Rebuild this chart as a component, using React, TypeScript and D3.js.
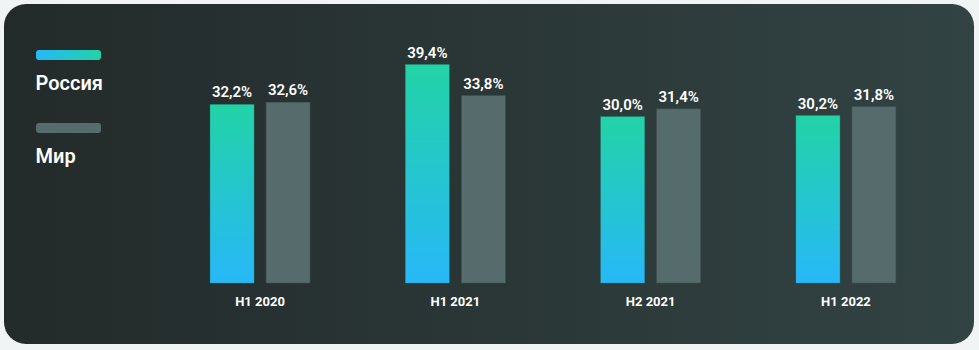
import React from "react";
import * as d3 from "d3";

const categories = ["H1 2020", "H1 2021", "H2 2021", "H1 2022"];
const russia = [32.2, 39.4, 30.0, 30.2];
const world = [32.6, 33.8, 31.4, 31.8];
const seriesNames = ["Россия", "Мир"];

const W = 979;
const H = 350;
const FONT = "Roboto, 'Noto Sans', sans-serif";

export default function App() {
  const x = d3.scaleBand<string>().domain(categories).range([162.4, 943.6]).padding(0);
  const y = d3.scaleLinear().domain([0, 39.4]).range([283, 64.5]);
  const barW = 44;
  const gap = 12;
  const fmt = (v: number) => v.toFixed(1).replace(".", ",") + "%";

  return (
    <svg
      width={W}
      height={H}
      style={{ position: "absolute", left: 0, top: 0, display: "block" }}
    >
      <defs>
        <linearGradient id="card" x1="0" y1="0" x2="1" y2="0">
          <stop offset="0" stopColor="#232a2a" />
          <stop offset="1" stopColor="#324343" />
        </linearGradient>
        <linearGradient id="rusV" x1="0" y1="0" x2="0" y2="1">
          <stop offset="0" stopColor="#22d3a6" />
          <stop offset="1" stopColor="#27b8f8" />
        </linearGradient>
        <linearGradient id="rusH" x1="0" y1="0" x2="1" y2="0">
          <stop offset="0" stopColor="#27b8f8" />
          <stop offset="1" stopColor="#22d3a6" />
        </linearGradient>
      </defs>
      <rect x={0} y={0} width={W} height={H} fill="#f1f4f4" />
      <rect x={4} y={4} width={970} height={340} rx={22} ry={22} fill="url(#card)" />

      {/* legend */}
      <rect x={36} y={50} width={65} height={10} rx={3} fill="url(#rusH)" />
      <text x={35.5} y={90} fill="#ffffff" fontFamily={FONT} fontSize={20} fontWeight={600}>
        {seriesNames[0]}
      </text>
      <rect x={36} y={123} width={65} height={10} rx={3} fill="#566b6b" />
      <text x={35.5} y={163} fill="#ffffff" fontFamily={FONT} fontSize={20} fontWeight={600}>
        {seriesNames[1]}
      </text>

      {categories.map((c, i) => {
        const cx = (x(c) as number) + x.bandwidth() / 2;
        const rx = cx - gap / 2 - barW;
        const wx = cx + gap / 2;
        return (
          <g key={c}>
            <rect
              x={rx}
              y={y(russia[i])}
              width={barW}
              height={y(0) - y(russia[i])}
              fill="url(#rusV)"
              stroke="#1f8f8a"
              strokeOpacity={0.5}
              strokeWidth={0.6}
            />
            <rect
              x={wx}
              y={y(world[i])}
              width={barW}
              height={y(0) - y(world[i])}
              fill="#566b6b"
              stroke="#3f5050"
              strokeWidth={0.6}
            />
            <text
              x={rx + barW / 2}
              y={y(russia[i]) - 7}
              textAnchor="middle"
              fill="#ffffff"
              fontFamily={FONT}
              fontSize={15}
              fontWeight={600}
            >
              {fmt(russia[i])}
            </text>
            <text
              x={wx + barW / 2}
              y={y(world[i]) - 7}
              textAnchor="middle"
              fill="#ffffff"
              fontFamily={FONT}
              fontSize={15}
              fontWeight={600}
            >
              {fmt(world[i])}
            </text>
            <text
              x={cx}
              y={306}
              textAnchor="middle"
              fill="#ffffff"
              fontFamily={FONT}
              fontSize={13}
              fontWeight={700}
            >
              {c}
            </text>
          </g>
        );
      })}
    </svg>
  );
}
